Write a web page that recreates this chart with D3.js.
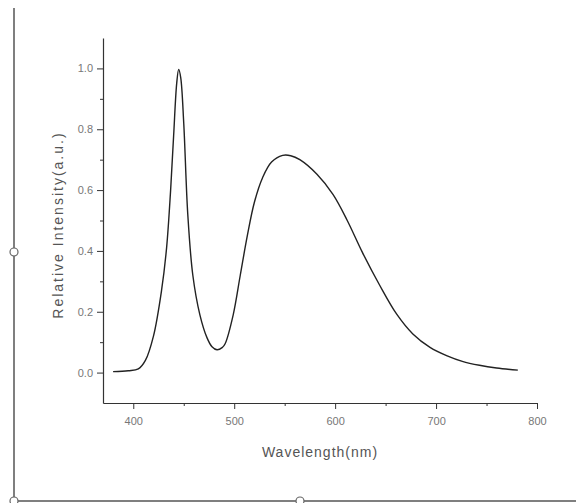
<!DOCTYPE html>
<html>
<head>
<meta charset="utf-8">
<script src="https://cdn.jsdelivr.net/npm/d3@7"></script>
<style>
  body { margin: 0; background: #fff; }
  svg { display: block; font-family: Arial, "Liberation Sans", sans-serif; }
</style>
</head>
<body>
<svg width="576" height="503"></svg>
<script>
// spectrum
var wavelength = [380, 395, 405, 412, 420, 428, 433, 437, 440, 443, 445, 447, 450, 454, 459, 466, 473, 478, 483, 488, 491, 499, 506, 513, 520, 528, 537, 548, 556, 565, 582, 598, 612, 627, 644, 661, 677, 694, 711, 726, 743, 760, 781];
var intensity = [0.003, 0.006, 0.012, 0.04, 0.12, 0.27, 0.41, 0.60, 0.78, 0.95, 0.997, 0.97, 0.82, 0.52, 0.32, 0.19, 0.115, 0.085, 0.075, 0.082, 0.095, 0.19, 0.32, 0.45, 0.56, 0.64, 0.692, 0.714, 0.713, 0.70, 0.652, 0.585, 0.50, 0.395, 0.288, 0.192, 0.127, 0.083, 0.055, 0.037, 0.024, 0.015, 0.008];
var xTicks = [400, 500, 600, 700, 800];
var xMinor = [450, 550, 650, 750];
var yTicks = [0.0, 0.2, 0.4, 0.6, 0.8, 1.0];
var yMinor = [0.1, 0.3, 0.5, 0.7, 0.9];

var svg = d3.select("svg"),
    margin = {top: 38, right: 39, bottom: 100, left: 103},
    width = +svg.attr("width") - margin.left - margin.right,
    height = +svg.attr("height") - margin.top - margin.bottom;

var xScale = d3.scaleLinear().domain([370, 800]).range([0, width]);
var yScale = d3.scaleLinear().domain([-0.1, 1.1]).range([height, 0]);

// frame lines of the pasted figure
svg.append("line").attr("x1", 14).attr("x2", 14).attr("y1", 8).attr("y2", 503)
    .attr("stroke", "#555").attr("stroke-width", 1.5);
svg.append("line").attr("x1", 14).attr("x2", 576).attr("y1", 501).attr("y2", 501)
    .attr("stroke", "#555").attr("stroke-width", 1.5);
[[14, 252], [14, 501], [300, 501]].forEach(function (p) {
    svg.append("circle").attr("cx", p[0]).attr("cy", p[1]).attr("r", 4)
        .attr("fill", "#fff").attr("stroke", "#666").attr("stroke-width", 1.2);
});

var g = svg.append("g").attr("transform", "translate(" + margin.left + "," + margin.top + ")");

// x axis
var xAxisG = g.append("g").attr("transform", "translate(0," + height + ")")
    .call(d3.axisBottom(xScale).tickValues(xTicks).tickFormat(d3.format("d")).tickSize(6).tickSizeOuter(0).tickPadding(8));
xAxisG.append("g")
    .call(d3.axisBottom(xScale).tickValues(xMinor).tickFormat("").tickSize(3).tickSizeOuter(0))
    .select(".domain").remove();

// y axis
var yAxisG = g.append("g")
    .call(d3.axisLeft(yScale).tickValues(yTicks).tickFormat(d3.format(".1f")).tickSize(6).tickSizeOuter(0).tickPadding(4));
yAxisG.append("g")
    .call(d3.axisLeft(yScale).tickValues(yMinor).tickFormat("").tickSize(3).tickSizeOuter(0))
    .select(".domain").remove();

g.selectAll(".domain").attr("stroke", "#333").attr("stroke-width", 1.2);
g.selectAll(".tick line").attr("stroke", "#333");
g.selectAll(".tick text").attr("fill", "#777").attr("font-size", 11);

// axis titles
svg.append("text")
    .attr("transform", "translate(" + [margin.left + xScale(585), 457] + ")")
    .attr("text-anchor", "middle")
    .attr("font-size", 14)
    .attr("letter-spacing", 1)
    .attr("fill", "#555")
    .text("Wavelength(nm)");

svg.append("text")
    .attr("transform", "translate(" + [63, margin.top + yScale(0.485)] + ") rotate(-90)")
    .attr("text-anchor", "middle")
    .attr("font-size", 14)
    .attr("letter-spacing", 2)
    .attr("fill", "#555")
    .text("Relative Intensity(a.u.)");

// spectrum
var data = wavelength.map(function (w, i) { return {x: w, y: intensity[i]}; });
var line = d3.line()
    .x(function (d) { return xScale(d.x); })
    .y(function (d) { return yScale(d.y); })
    .curve(d3.curveCatmullRom.alpha(0.5));
g.append("path")
    .datum(data)
    .attr("fill", "none")
    .attr("stroke", "#222")
    .attr("stroke-width", 1.4)
    .attr("d", line);
</script>
</body>
</html>
